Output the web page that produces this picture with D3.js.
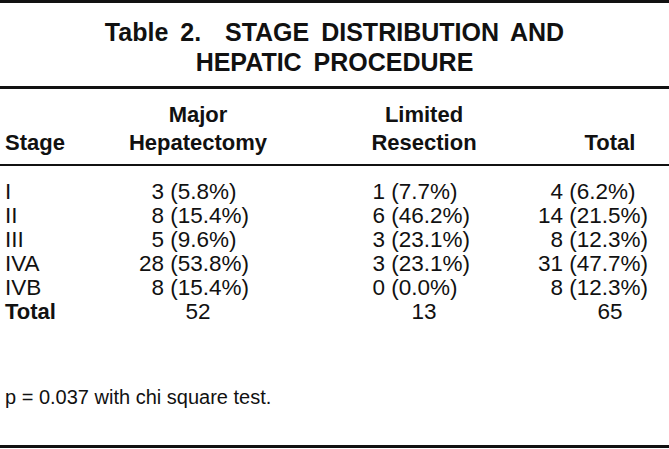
<!DOCTYPE html>
<html>
<head>
<meta charset="utf-8">
<script src="https://cdn.jsdelivr.net/npm/d3@7"></script>
<style>
  html, body { margin: 0; padding: 0; background: #fff; }
  svg { display: block; }
  text { font-family: "Liberation Sans", Arial, Helvetica, sans-serif; fill: #111; }
</style>
</head>
<body>
<script>
// ---- data ----
const titleLines = ["Table 2.  STAGE DISTRIBUTION AND", "HEPATIC PROCEDURE"];
const columns = ["Stage", "Major Hepatectomy", "Limited Resection", "Total"];
const stages = ["I", "II", "III", "IVA", "IVB"];
const majorN = [3, 8, 5, 28, 8];
const majorPct = [5.8, 15.4, 9.6, 53.8, 15.4];
const limitedN = [1, 6, 3, 3, 0];
const limitedPct = [7.7, 46.2, 23.1, 23.1, 0.0];
const totalN = [4, 14, 8, 31, 8];
const totalPct = [6.2, 21.5, 12.3, 47.7, 12.3];
const columnTotals = [52, 13, 65];
const footnote = "p = 0.037 with chi square test.";

// ---- layout ----
const W = 669, H = 449;
const svg = d3.select("body").append("svg").attr("width", W).attr("height", H);

// rules
const rules = [{y: 0, h: 3}, {y: 86, h: 3}, {y: 164, h: 2}, {y: 445, h: 3}];
svg.selectAll("rect.rule").data(rules).join("rect")
  .attr("class", "rule").attr("x", 0).attr("width", W)
  .attr("y", d => d.y).attr("height", d => d.h).attr("fill", "#111");

// title
svg.selectAll("text.title").data(titleLines).join("text")
  .attr("class", "title")
  .attr("x", W / 2).attr("y", (d, i) => 41 + i * 30)
  .attr("text-anchor", "middle")
  .style("font-size", "25px").style("font-weight", "bold")
  .style("white-space", "pre").style("word-spacing", "5px")
  .text(d => d);

// column positions
const colCenter = d3.scaleOrdinal().domain(columns.slice(1)).range([198, 424, 610]);
const countEnd = d3.scaleOrdinal().domain(columns.slice(1)).range([164, 385, 563]);

// header
const hdr = svg.append("g").style("font-size", "22px").style("font-weight", "bold");
hdr.append("text").attr("x", 5).attr("y", 150).text(columns[0]);
columns.slice(1).forEach(c => {
  const words = c.split(" ");
  const t = hdr.append("text").attr("text-anchor", "middle").attr("x", colCenter(c));
  if (words.length === 2) {
    t.append("tspan").attr("x", colCenter(c)).attr("y", 122).text(words[0]);
    t.append("tspan").attr("x", colCenter(c)).attr("y", 150).text(words[1]);
  } else {
    t.attr("y", 150).text(c);
  }
});

// rows
const rowY = d3.scalePoint().domain([...stages, "Total"]).range([199, 319]);
const body = svg.append("g").style("font-size", "22.5px");
body.selectAll("text.stage").data(stages).join("text")
  .attr("class", "stage").attr("x", 5).attr("y", d => rowY(d)).text(d => d);

const cellCols = [
  {col: columns[1], n: majorN, p: majorPct},
  {col: columns[2], n: limitedN, p: limitedPct},
  {col: columns[3], n: totalN, p: totalPct}
];
cellCols.forEach(cc => {
  const g = body.append("g");
  g.selectAll("text.n").data(stages).join("text")
    .attr("class", "n").attr("text-anchor", "end")
    .attr("x", countEnd(cc.col)).attr("y", d => rowY(d))
    .text((d, i) => cc.n[i]);
  g.selectAll("text.p").data(stages).join("text")
    .attr("class", "p").style("white-space", "pre")
    .attr("x", countEnd(cc.col)).attr("y", d => rowY(d))
    .text((d, i) => " (" + d3.format(".1f")(cc.p[i]) + "%)");
});

// totals row
body.append("text").attr("x", 5).attr("y", rowY("Total"))
  .style("font-weight", "bold").style("font-size", "22px").text("Total");
body.selectAll("text.tot").data(columnTotals).join("text")
  .attr("class", "tot").attr("text-anchor", "middle")
  .attr("x", (d, i) => colCenter(columns[i + 1])).attr("y", rowY("Total"))
  .text(d => d);

// footnote
svg.append("text").attr("x", 5).attr("y", 404)
  .style("font-size", "20px").text(footnote);
</script>
</body>
</html>
